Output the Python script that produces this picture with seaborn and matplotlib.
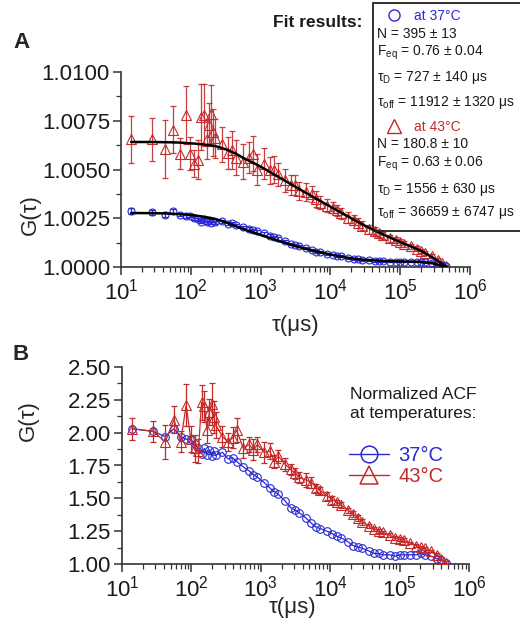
import numpy as np
import matplotlib
matplotlib.use("Agg")
import matplotlib.pyplot as plt
import matplotlib.lines as mlines
from matplotlib.patches import Rectangle
from matplotlib.ticker import MultipleLocator, LogLocator, StrMethodFormatter, NullFormatter
import seaborn as sns

# ---------------- data ----------------
tau_us = [14, 28, 42, 56, 70, 84, 98, 112,
          126, 140, 154, 168, 182, 196, 210, 224,
          280, 336, 392, 448,
          560, 672, 784, 896,
          1120, 1344, 1568, 1792,
          2240, 2688, 3136, 3584,
          4480, 5376, 6272, 7168,
          8960, 10752, 12544, 14336,
          17920, 21504, 25088, 28672,
          35840, 43008, 50176, 57344,
          71680, 86016, 100352, 114688,
          143360, 172032, 200704, 229376,
          286720, 344064, 401408, 458752]

# Panel A: raw ACF at 43 C (red triangles)
a_red = [1.00655, 1.00655, 1.00605, 1.00704, 1.00580, 1.00780, 1.00580, 1.00530,
         1.00550, 1.00770, 1.00780, 1.00655, 1.00730, 1.00785, 1.00690, 1.00660,
         1.00630, 1.00585, 1.00600, 1.00560,
         1.00540, 1.00560, 1.00580, 1.00500,
         1.00530, 1.00495, 1.00500, 1.00475,
         1.00445, 1.00420, 1.00420, 1.00390,
         1.00385, 1.00375, 1.00350, 1.00330,
         1.00315, 1.00305, 1.00290, 1.00275,
         1.00252, 1.00240, 1.00226, 1.00212,
         1.00193, 1.00184, 1.00172, 1.00163,
         1.00148, 1.00138, 1.00128, 1.00120,
         1.00106, 1.00094, 1.00082, 1.00072,
         1.00055, 1.00036, 1.00018, 1.00005]
a_red_err = [0.0012, 0.0011, 0.0015, 0.0012, 0.0008, 0.0015, 0.00085, 0.0007,
             0.0010, 0.0017, 0.0016, 0.0010, 0.0011, 0.0015, 0.0012, 0.0010,
             0.0009, 0.0008, 0.0010, 0.0009,
             0.0009, 0.0008, 0.0009, 0.0008,
             0.0008, 0.0007, 0.0007, 0.0006,
             0.0006, 0.0005, 0.0005, 0.00045,
             0.00045, 0.0004, 0.0004, 0.00035,
             0.00035, 0.0003, 0.0003, 0.0003,
             0.00028, 0.00026, 0.00025, 0.00024,
             0.00022, 0.0002, 0.0002, 0.00018,
             0.00018, 0.00016, 0.00015, 0.00015,
             0.00014, 0.00013, 0.00012, 0.00012,
             0.0001, 0.0001, 0.00008, 0.00006]
a_red_fit = [1.00641, 1.00641, 1.00640, 1.00639, 1.00638, 1.00636, 1.00634, 1.00633,
             1.00631, 1.00630, 1.00628, 1.00626, 1.00625, 1.00623, 1.00621, 1.00620,
             1.00610, 1.00600, 1.00590, 1.00580,
             1.00560, 1.00546, 1.00534, 1.00524,
             1.00505, 1.00488, 1.00474, 1.00462,
             1.00442, 1.00426, 1.00412, 1.00400,
             1.00380, 1.00364, 1.00350, 1.00338,
             1.00319, 1.00303, 1.00290, 1.00278,
             1.00259, 1.00243, 1.00230, 1.00219,
             1.00201, 1.00187, 1.00176, 1.00166,
             1.00151, 1.00138, 1.00128, 1.00119,
             1.00105, 1.00093, 1.00082, 1.00070,
             1.00050, 1.00032, 1.00016, 1.00002]

# Panel A: raw ACF at 37 C (blue circles)
a_blue = [1.00285, 1.00280, 1.00269, 1.00285, 1.00269, 1.00263, 1.00263, 1.00252,
          1.00244, 1.00233, 1.00244, 1.00230, 1.00241, 1.00227, 1.00238, 1.00230,
          1.00235, 1.00222, 1.00224, 1.00216,
          1.00205, 1.00197, 1.00188, 1.00183,
          1.00172, 1.00161, 1.00152, 1.00147,
          1.00133, 1.00119, 1.00114, 1.00108,
          1.00097, 1.00086, 1.00078, 1.00075,
          1.00069, 1.00064, 1.00058, 1.00055,
          1.00047, 1.00042, 1.00039, 1.00037,
          1.00034, 1.00031, 1.00030, 1.00029,
          1.00028, 1.00027, 1.00028, 1.00027,
          1.00027, 1.00027, 1.00028, 1.00026,
          1.00023, 1.00015, 1.00009, 1.00003]
a_blue_err = [0.00015, 0.00012, 0.00012, 0.00014, 0.00010, 0.00010, 0.00009, 0.00009,
              0.00009, 0.00008, 0.00008, 0.00008, 0.00008, 0.00008, 0.00008, 0.00008,
              0.00007, 0.00007, 0.00007, 0.00007,
              0.00007, 0.00007, 0.00007, 0.00007,
              0.00006, 0.00006, 0.00006, 0.00006,
              0.00006, 0.00006, 0.00006, 0.00006,
              0.00005, 0.00005, 0.00005, 0.00005,
              0.00005, 0.00005, 0.00005, 0.00005,
              0.00004, 0.00004, 0.00004, 0.00004,
              0.00004, 0.00004, 0.00004, 0.00004,
              0.00003, 0.00003, 0.00003, 0.00003,
              0.00003, 0.00003, 0.00003, 0.00003,
              0.00002, 0.00002, 0.00002, 0.00002]
a_blue_fit = [1.00277, 1.00276, 1.00275, 1.00273, 1.00271, 1.00269, 1.00267, 1.00265,
              1.00262, 1.00260, 1.00257, 1.00255, 1.00252, 1.00250, 1.00248, 1.00246,
              1.00236, 1.00226, 1.00216, 1.00208,
              1.00195, 1.00185, 1.00177, 1.00170,
              1.00159, 1.00149, 1.00141, 1.00134,
              1.00124, 1.00115, 1.00108, 1.00102,
              1.00093, 1.00086, 1.00080, 1.00075,
              1.00068, 1.00062, 1.00057, 1.00053,
              1.00047, 1.00043, 1.00040, 1.00038,
              1.00036, 1.00034, 1.00032, 1.00031,
              1.00030, 1.00029, 1.00029, 1.00028,
              1.00028, 1.00027, 1.00026, 1.00024,
              1.00019, 1.00012, 1.00006, 1.00001]

# Panel B: normalized ACF
b_red = [2.03, 2.01, 1.93, 2.10, 1.93, 2.21, 1.95, 1.88,
         1.86, 2.23, 2.20, 2.02, 2.16, 2.22, 2.12, 2.06,
         1.97, 1.93, 1.96, 2.02,
         1.88, 1.91, 1.87, 1.91,
         1.85, 1.86, 1.78, 1.82,
         1.76, 1.72, 1.69, 1.66,
         1.64, 1.62, 1.58, 1.56,
         1.52, 1.49, 1.47, 1.45,
         1.41, 1.38, 1.35, 1.32,
         1.29, 1.27, 1.25, 1.24,
         1.22, 1.20, 1.19, 1.18,
         1.16, 1.14, 1.13, 1.12,
         1.10, 1.07, 1.04, 1.01]
b_red_err = [0.085, 0.08, 0.13, 0.10, 0.08, 0.16, 0.10, 0.10,
             0.09, 0.13, 0.12, 0.10, 0.10, 0.16, 0.12, 0.10,
             0.08, 0.07, 0.08, 0.09,
             0.07, 0.06, 0.08, 0.06,
             0.08, 0.06, 0.05, 0.05,
             0.05, 0.04, 0.04, 0.04,
             0.05, 0.04, 0.03, 0.03,
             0.03, 0.03, 0.02, 0.02,
             0.02, 0.02, 0.02, 0.02,
             0.015, 0.015, 0.015, 0.015,
             0.015, 0.015, 0.015, 0.015,
             0.01, 0.01, 0.01, 0.01,
             0.01, 0.01, 0.01, 0.01]
b_blue = [2.03, 2.01, 1.97, 2.03, 1.97, 1.95, 1.95, 1.91,
          1.88, 1.84, 1.88, 1.83, 1.87, 1.82, 1.86, 1.83,
          1.85, 1.80, 1.81, 1.78,
          1.74, 1.71, 1.68, 1.66,
          1.62, 1.58, 1.55, 1.53,
          1.48, 1.43, 1.41, 1.39,
          1.35, 1.31, 1.28, 1.27,
          1.25, 1.23, 1.21, 1.20,
          1.17, 1.14, 1.13, 1.12,
          1.10, 1.08, 1.08, 1.07,
          1.07, 1.06, 1.07, 1.07,
          1.07, 1.07, 1.08, 1.07,
          1.06, 1.04, 1.03, 1.01]

a_yticks = [1.0000, 1.0025, 1.0050, 1.0075, 1.0100]
b_yticks = [1.00, 1.25, 1.50, 1.75, 2.00, 2.25, 2.50]

fit_lines_37 = ["N = 395 ± 13", "F$_{\\mathregular{eq}}$ = 0.76 ± 0.04",
                "τ$_{\\mathregular{D}}$ = 727 ± 140 μs", "τ$_{\\mathregular{off}}$ = 11912 ± 1320 μs"]
fit_lines_43 = ["N = 180.8 ± 10", "F$_{\\mathregular{eq}}$ = 0.63 ± 0.06",
                "τ$_{\\mathregular{D}}$ = 1556 ± 630 μs", "τ$_{\\mathregular{off}}$ = 36659 ± 6747 μs"]

# ---------------- style ----------------
RED = "#c42a2a"
BLUE = "#2a2ad0"
sns.set_theme(style="ticks")
plt.rcParams["font.family"] = ["Liberation Sans", "DejaVu Sans"]
plt.rcParams["mathtext.fontset"] = "custom"
plt.rcParams["mathtext.rm"] = "Liberation Sans"
plt.rcParams["mathtext.it"] = "Liberation Sans:italic"
plt.rcParams["mathtext.bf"] = "Liberation Sans:bold"

W, H = 520, 620
fig = plt.figure(figsize=(5.2, 6.2), dpi=100)
axA = fig.add_axes([121 / W, 1 - 267 / H, 349 / W, 195 / H])
axB = fig.add_axes([122 / W, 1 - 564 / H, 347 / W, 197 / H])


def style_axis(ax, ylim, yticks, minor, fmt):
    ax.set_xscale("log")
    ax.set_xlim(10, 1e6)
    ax.set_ylim(*ylim)
    ax.set_yticks(yticks)
    ax.yaxis.set_minor_locator(MultipleLocator(minor))
    ax.yaxis.set_major_formatter(StrMethodFormatter(fmt))
    ax.xaxis.set_major_locator(LogLocator(base=10, numticks=12))
    ax.xaxis.set_minor_locator(LogLocator(base=10, subs=np.arange(2, 10), numticks=40))
    ax.xaxis.set_minor_formatter(NullFormatter())
    for s in ["top", "right"]:
        ax.spines[s].set_visible(False)
    for s in ["left", "bottom"]:
        ax.spines[s].set_linewidth(1.2)
        ax.spines[s].set_color("#333333")
    ax.tick_params(which="major", length=6, width=1.1, labelsize=16, direction="out",
                   pad=2, color="#333333", labelcolor="#1a1a1a")
    ax.tick_params(which="minor", length=3.5, width=0.9, direction="out", color="#333333")
    ax.set_xlabel("")
    ax.set_ylabel("")


style_axis(axA, (1.0, 1.01), a_yticks, 0.00125, "{x:.4f}")
style_axis(axB, (1.0, 2.5), b_yticks, 0.125, "{x:.2f}")

# ---------------- panel A ----------------
axA.errorbar(tau_us, a_red, yerr=a_red_err, fmt="none", ecolor=RED, elinewidth=0.9,
             capsize=2.5, capthick=0.9, alpha=0.9, zorder=2)
sns.lineplot(x=tau_us, y=a_red, ax=axA, linestyle="", marker="^", markersize=7,
             markerfacecolor="none", markeredgecolor=RED, markeredgewidth=0.8,
             estimator=None, sort=False, legend=False, zorder=3)
axA.errorbar(tau_us, a_blue, yerr=a_blue_err, fmt="none", ecolor=BLUE, elinewidth=0.9,
             capsize=2.5, capthick=0.9, zorder=2)
sns.lineplot(x=tau_us, y=a_blue, ax=axA, linestyle="", marker="o", markersize=5,
             markerfacecolor="none", markeredgecolor=BLUE, markeredgewidth=0.8,
             estimator=None, sort=False, legend=False, zorder=3)
sns.lineplot(x=tau_us, y=a_red_fit, ax=axA, color="black", linewidth=1.8,
             estimator=None, sort=False, legend=False, zorder=4)
sns.lineplot(x=tau_us, y=a_blue_fit, ax=axA, color="black", linewidth=1.8,
             estimator=None, sort=False, legend=False, zorder=4)
axA.set_xlabel("")
axA.set_ylabel("")

# ---------------- panel B ----------------
sns.lineplot(x=tau_us, y=b_blue, ax=axB, color=BLUE, linewidth=0.9, marker="o",
             markersize=5.5, markerfacecolor="none", markeredgecolor=BLUE,
             markeredgewidth=0.8, estimator=None, sort=False, legend=False, zorder=3)
axB.errorbar(tau_us, b_red, yerr=b_red_err, fmt="none", ecolor=RED, elinewidth=0.9,
             capsize=2.5, capthick=0.9, zorder=4)
sns.lineplot(x=tau_us, y=b_red, ax=axB, color=RED, linewidth=0.9, marker="^",
             markersize=7, markerfacecolor="none", markeredgecolor=RED,
             markeredgewidth=0.8, estimator=None, sort=False, legend=False, zorder=5)
axB.set_xlabel("")
axB.set_ylabel("")

handles = [mlines.Line2D([], [], color=BLUE, lw=1.0, marker="o", ms=12, mfc="none", mew=1.1),
           mlines.Line2D([], [], color=RED, lw=1.0, marker="^", ms=13, mfc="none", mew=1.1)]
axB.legend(handles, ["37°C", "43°C"], loc="upper left",
           bbox_to_anchor=(349 / W, 1 - 446 / H), bbox_transform=fig.transFigure,
           frameon=False, fontsize=14.5, handlelength=2.0, handletextpad=0.45,
           labelspacing=0.1, borderpad=0, borderaxespad=0, labelcolor=[BLUE, RED])

fig.text(350 / W, 1 - 404 / H, "Normalized ACF\nat temperatures:", fontsize=12.5,
         ha="left", va="center", linespacing=1.3, color="#1a1a1a")

# ---------------- axis labels & panel letters ----------------
fig.text(30 / W, 1 - 215 / H, "G(τ)", rotation=90, ha="center", va="center", fontsize=16)
fig.text(28 / W, 1 - 421 / H, "G(τ)", rotation=90, ha="center", va="center", fontsize=16)
fig.text(295 / W, 1 - 326 / H, "τ(μs)", ha="center", va="center", fontsize=16)
fig.text(292 / W, 1 - 607 / H, "τ(μs)", ha="center", va="center", fontsize=16)
fig.text(13 / W, 1 - 48 / H, "A", fontsize=16, fontweight="bold", ha="left", va="baseline")
fig.text(13 / W, 1 - 360 / H, "B", fontsize=16, fontweight="bold", ha="left", va="baseline")

# ---------------- fit results box ----------------
fig.text(362 / W, 1 - 27 / H, "Fit results:", fontsize=12.5, fontweight="bold",
         ha="right", va="baseline", color="#1a1a1a")
fig.add_artist(Rectangle((372.5 / W, 1 - 231 / H), 200 / W, 228 / H, transform=fig.transFigure,
                         fill=False, edgecolor="#222222", linewidth=1.3, clip_on=False))
fig.add_artist(mlines.Line2D([394 / W], [1 - 15 / H], transform=fig.transFigure, marker="o",
                             ms=8, mfc="none", mec=BLUE, mew=1.0, ls=""))
fig.add_artist(mlines.Line2D([394 / W], [1 - 126 / H], transform=fig.transFigure, marker="^",
                             ms=10, mfc="none", mec=RED, mew=1.0, ls=""))
fig.text(414 / W, 1 - 20 / H, "at 37°C", color=BLUE, fontsize=10, ha="left", va="baseline")
fig.text(414 / W, 1 - 131 / H, "at 43°C", color=RED, fontsize=10, ha="left", va="baseline")
for txt, yb in zip(fit_lines_37, [37.5, 56, 81.5, 106]):
    fig.text(377 / W, 1 - yb / H, txt, fontsize=10, ha="left", va="baseline", color="#1a1a1a")
for txt, yb in zip(fit_lines_43, [148.5, 167, 192.5, 216.5]):
    fig.text(377 / W, 1 - yb / H, txt, fontsize=10, ha="left", va="baseline", color="#1a1a1a")

fig.savefig("out.png", dpi=100)
